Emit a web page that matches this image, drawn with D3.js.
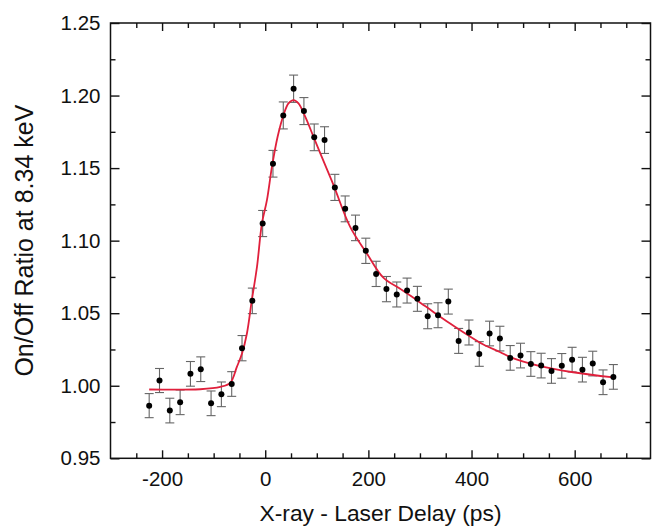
<!DOCTYPE html>
<html>
<head>
<meta charset="utf-8">
<script src="https://cdn.jsdelivr.net/npm/d3@7"></script>
<style>
body { margin: 0; background: #fff; }
text { font-family: "Liberation Sans", Arial, sans-serif; fill: #111; }
</style>
</head>
<body>
<div id="plot"></div>
<script>
var width = 652;
var height = 527;
var margin = {top: 23, right: 1.5, bottom: 68.7, left: 110.5};

// delay (ps), measured on/off ratio and its error
var delays = [-225, -205, -185, -165, -145, -125, -105, -85, -65, -45, -25, -5, 15, 35, 55, 75, 95, 115, 135,
    155, 175, 195, 215, 235, 255, 275, 295, 315, 335, 355, 375, 395, 415, 435, 455, 475, 495, 515, 535, 555,
    575, 595, 615, 635, 655, 675];
var ratios = [0.9863, 1.0036, 0.9829, 0.9886, 1.0082, 1.0114, 0.9879, 0.9941, 1.0012, 1.0259, 1.0585, 1.1118,
    1.1530, 1.1863, 1.2047, 1.1893, 1.1712, 1.1693, 1.1367, 1.1219, 1.1088, 1.0930, 1.0771, 1.0666, 1.0629,
    1.0656, 1.0599, 1.0479, 1.0486, 1.0580, 1.0309, 1.0367, 1.0219, 1.0360, 1.0325, 1.0192, 1.0208, 1.0150,
    1.0139, 1.0102, 1.0137, 1.0180, 1.0111, 1.0153, 1.0024, 1.0061];
var errors = [0.0083, 0.0083, 0.0085, 0.0085, 0.0085, 0.0085, 0.0085, 0.0085, 0.0085, 0.0087, 0.0088, 0.0090,
    0.0092, 0.0093, 0.0094, 0.0093, 0.0092, 0.0092, 0.0090, 0.0089, 0.0088, 0.0087, 0.0087, 0.0087, 0.0086,
    0.0086, 0.0086, 0.0086, 0.0086, 0.0086, 0.0086, 0.0086, 0.0085, 0.0085, 0.0085, 0.0085, 0.0085, 0.0085,
    0.0085, 0.0085, 0.0085, 0.0085, 0.0085, 0.0085, 0.0085, 0.0085];

// fitted curve
var fitX = [-225, -126, -87, -68, -55, -45, -35.5, -26, -16, -6.4, 3.3, 13, 24, 35.5, 45, 55, 64.5, 77.5, 93.6,
    106.6, 132.4, 164.7, 197, 229, 261.6, 294, 326, 358.5, 391, 423, 455, 475, 533, 597, 675];
var fitY = [0.9974, 0.9976, 0.9992, 1.0020, 1.0130, 1.0222, 1.0360, 1.0590, 1.0819, 1.1119, 1.1279, 1.1509,
    1.1716, 1.1866, 1.1946, 1.1969, 1.1946, 1.1854, 1.1716, 1.1603, 1.1383, 1.1095, 1.0912, 1.0745, 1.0668,
    1.0590, 1.0509, 1.0429, 1.0353, 1.0284, 1.0233, 1.0197, 1.0135, 1.0093, 1.0057];

var xMajor = [-200, 0, 200, 400, 600];
var xMinor = [-250, -150, -100, -50, 50, 100, 150, 250, 300, 350, 450, 500, 550, 650, 700];
var yMajor = [0.95, 1.00, 1.05, 1.10, 1.15, 1.20, 1.25];
var yMinor = [0.975, 1.025, 1.075, 1.125, 1.175, 1.225];

var w = width - margin.left - margin.right;
var h = height - margin.top - margin.bottom;

var svg = d3.select("#plot").append("svg")
    .attr("width", width)
    .attr("height", height);

var plot = svg.append("g").attr("transform", translate(margin.left, margin.top));

var scaleX = d3.scaleLinear().domain([-300, 747]).range([0, w]);
var scaleY = d3.scaleLinear().domain([0.95, 1.25]).range([h, 0]);

// Axes (ticks point inward on all four sides)
function styleAxis(g) {
    g.select(".domain").remove();
    g.selectAll(".tick line").attr("stroke", "#111").attr("stroke-width", 1.4);
    g.selectAll("text").style("font-size", "20.5px").attr("fill", "#111");
}

plot.append("g").attr("transform", translate(0, h))
    .call(d3.axisBottom(scaleX).tickValues(xMajor).tickSize(-8).tickPadding(13)
        .tickFormat(function(d) { return d; }))
    .call(styleAxis);
plot.append("g").attr("transform", translate(0, h))
    .call(d3.axisBottom(scaleX).tickValues(xMinor).tickSize(-5).tickFormat(""))
    .call(styleAxis);
plot.append("g")
    .call(d3.axisTop(scaleX).tickValues(xMajor).tickSize(-8).tickFormat(""))
    .call(styleAxis);
plot.append("g")
    .call(d3.axisTop(scaleX).tickValues(xMinor).tickSize(-5).tickFormat(""))
    .call(styleAxis);

plot.append("g")
    .call(d3.axisLeft(scaleY).tickValues(yMajor).tickSize(-9).tickPadding(10)
        .tickFormat(d3.format(".2f")))
    .call(styleAxis);
plot.append("g")
    .call(d3.axisLeft(scaleY).tickValues(yMinor).tickSize(-5).tickFormat(""))
    .call(styleAxis);
plot.append("g").attr("transform", translate(w, 0))
    .call(d3.axisRight(scaleY).tickValues(yMajor).tickSize(-9).tickFormat(""))
    .call(styleAxis);
plot.append("g").attr("transform", translate(w, 0))
    .call(d3.axisRight(scaleY).tickValues(yMinor).tickSize(-5).tickFormat(""))
    .call(styleAxis);

// Frame
plot.append("rect")
    .attr("width", w).attr("height", h)
    .attr("fill", "none")
    .attr("stroke", "#111")
    .attr("stroke-width", 1.5);

// Error bars
var points = delays.map(function(d, i) {
    return {x: d, y: ratios[i], e: errors[i]};
});

var bars = plot.selectAll("g.err").data(points).enter().append("g")
    .attr("class", "err")
    .attr("stroke", "#666")
    .attr("stroke-width", 1.1);
bars.append("line")
    .attr("x1", function(d) { return scaleX(d.x); })
    .attr("x2", function(d) { return scaleX(d.x); })
    .attr("y1", function(d) { return scaleY(d.y - d.e); })
    .attr("y2", function(d) { return scaleY(d.y + d.e); });
[-1, 1].forEach(function(s) {
    bars.append("line")
        .attr("x1", function(d) { return scaleX(d.x) - 4.5; })
        .attr("x2", function(d) { return scaleX(d.x) + 4.5; })
        .attr("y1", function(d) { return scaleY(d.y + s * d.e); })
        .attr("y2", function(d) { return scaleY(d.y + s * d.e); });
});

// Fit line
var fitData = fitX.map(function(d, i) { return [d, fitY[i]]; });
var pathGenerator = d3.line()
    .x(function(d) { return scaleX(d[0]); })
    .y(function(d) { return scaleY(d[1]); })
    .curve(d3.curveCatmullRom.alpha(0.5));
plot.append("path")
    .attr("d", pathGenerator(fitData))
    .attr("fill", "none")
    .attr("stroke", "#e0203c")
    .attr("stroke-width", 1.8);

// Data points
plot.selectAll("circle.pt").data(points).enter().append("circle")
    .attr("class", "pt")
    .attr("cx", function(d) { return scaleX(d.x); })
    .attr("cy", function(d) { return scaleY(d.y); })
    .attr("r", 3)
    .attr("fill", "#000");

// Axis titles
svg.append("text")
    .attr("x", margin.left + w / 2)
    .attr("y", 521)
    .attr("text-anchor", "middle")
    .style("font-size", "22.8px")
    .text("X-ray - Laser Delay (ps)");

svg.append("text")
    .attr("transform", translate(33, margin.top + h / 2) + " rotate(-90)")
    .attr("text-anchor", "middle")
    .style("font-size", "25px")
    .text("On/Off Ratio at 8.34 keV");

function translate(x, y) {
    return "translate(" + x + "," + y + ")";
}
</script>
</body>
</html>
